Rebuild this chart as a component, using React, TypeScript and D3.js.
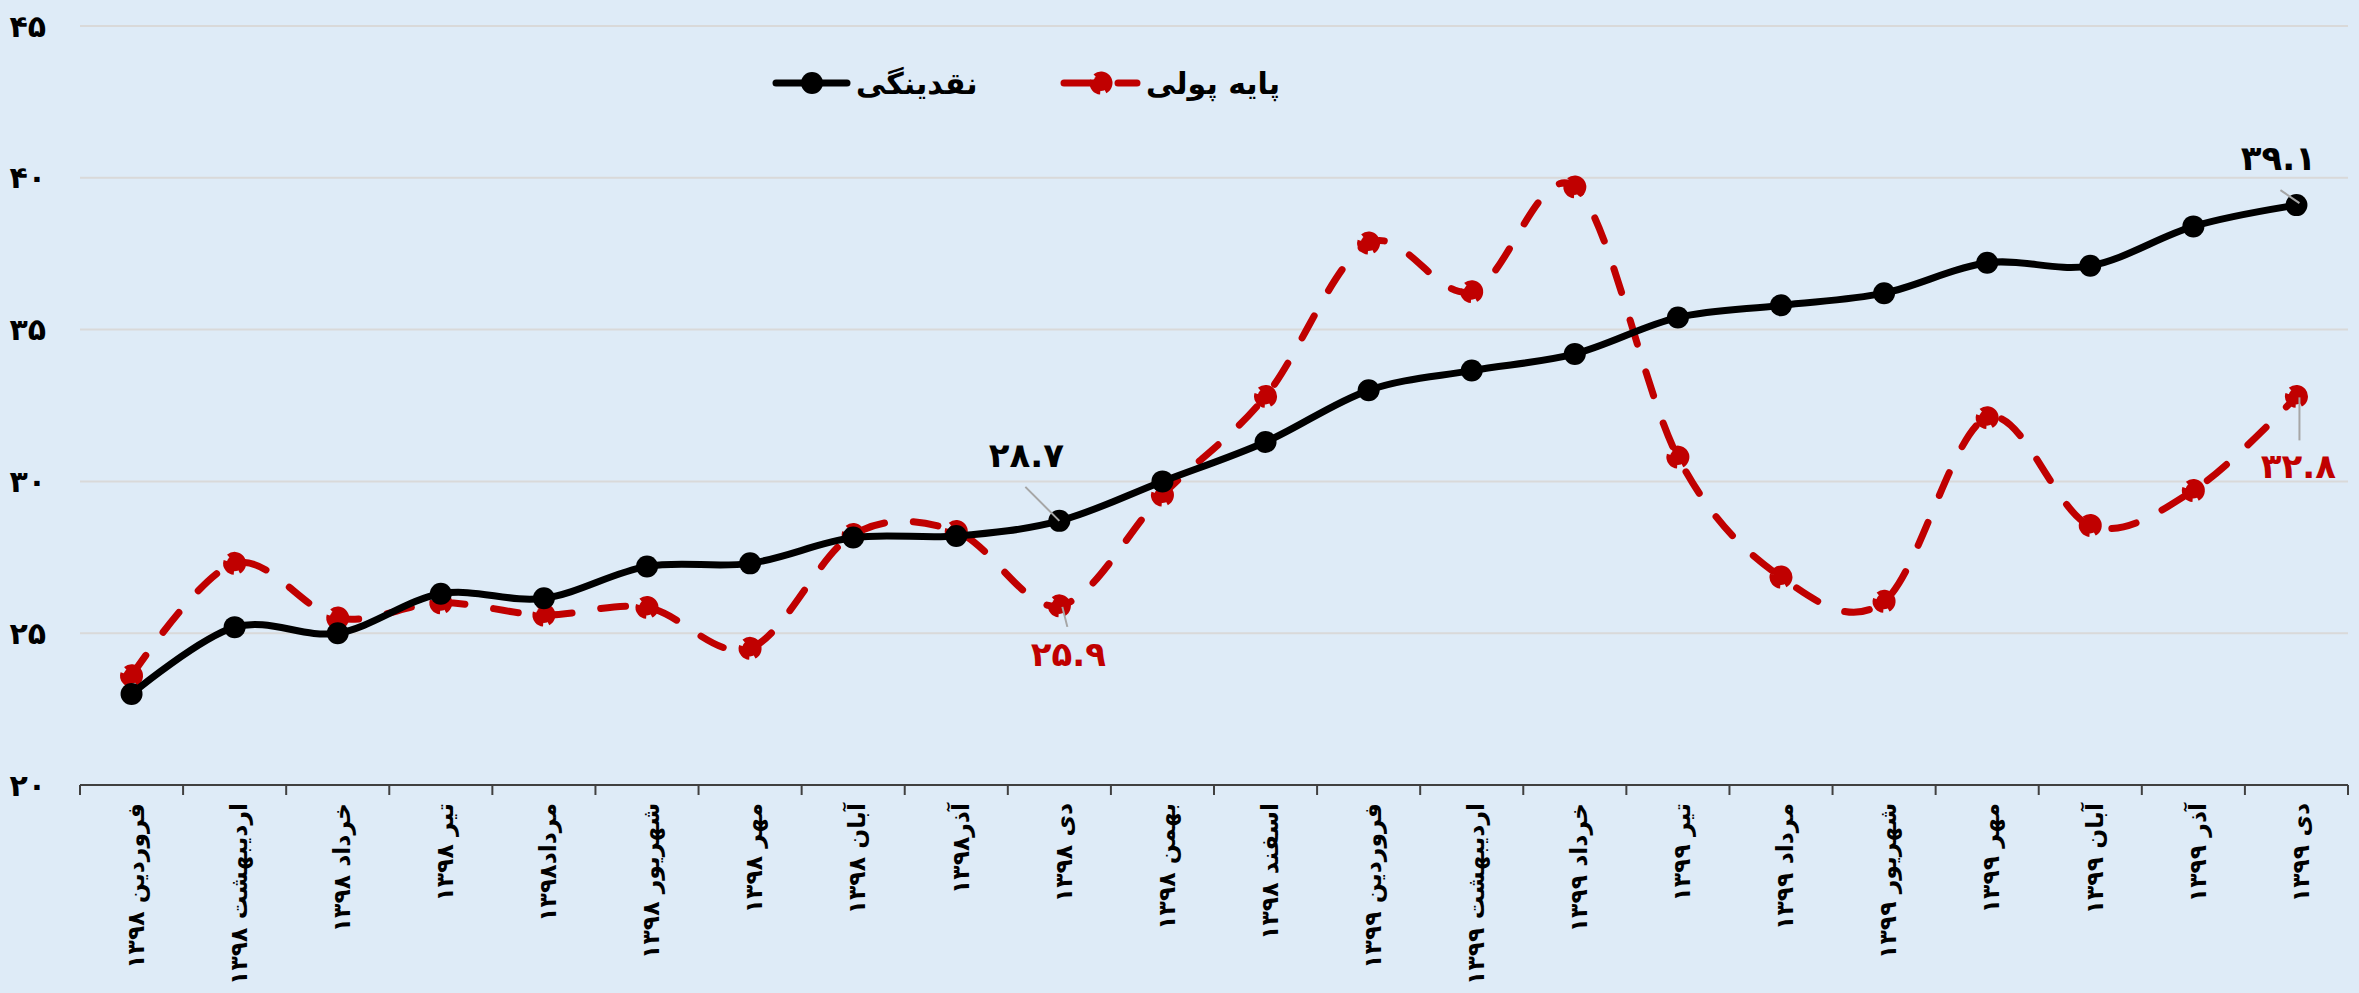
import { useEffect } from "react"
import * as d3 from "d3"

const months = [
  "فروردین ۱۳۹۸",
  "اردیبهشت ۱۳۹۸",
  "خرداد ۱۳۹۸",
  "تیر ۱۳۹۸",
  "مرداد۱۳۹۸",
  "شهریور ۱۳۹۸",
  "مهر ۱۳۹۸",
  "آبان ۱۳۹۸",
  "آذر۱۳۹۸",
  "دی ۱۳۹۸",
  "بهمن ۱۳۹۸",
  "اسفند ۱۳۹۸",
  "فروردین ۱۳۹۹",
  "اردیبهشت ۱۳۹۹",
  "خرداد ۱۳۹۹",
  "تیر ۱۳۹۹",
  "مرداد ۱۳۹۹",
  "شهریور ۱۳۹۹",
  "مهر ۱۳۹۹",
  "آبان ۱۳۹۹",
  "آذر ۱۳۹۹",
  "دی ۱۳۹۹",
]

// نقدینگی
const liquidity = [
  23.0, 25.2, 25.0, 26.3, 26.15, 27.2, 27.3, 28.15, 28.2, 28.7, 30.0, 31.3, 33.0, 33.65, 34.2, 35.4,
  35.8, 36.2, 37.2, 37.1, 38.4, 39.1,
]

// پایه پولی
const monetaryBase = [
  23.6, 27.3, 25.5, 26.0, 25.6, 25.85, 24.5, 28.25, 28.35, 25.9, 29.55, 32.8, 37.85, 36.25, 39.7,
  30.8, 26.85, 26.05, 32.1, 28.55, 29.7, 32.8,
]

const yTicks = [20, 25, 30, 35, 40, 45]
const seriesNames = ["نقدینگی", "پایه پولی"]
const labelledPoints = [9, 21]

const W = 2359
const H = 993
const BG = "#deebf7"
const RED = "#c00000"
const FONT = "'DejaVu Sans', sans-serif"

const faDigits = (s: string) => s.replace(/\d/g, (d) => "۰۱۲۳۴۵۶۷۸۹"[+d])
const fmt = (v: number) => faDigits(v.toFixed(1))

export default function App() {
  useEffect(() => {
    document.body.style.margin = "0"
    document.body.style.background = BG
  }, [])

  const x = d3.scaleBand<string>().domain(months).range([80, 2348])
  const y = d3.scaleLinear().domain([20, 45]).range([785, 26])
  const cx = (i: number) => (x(months[i]) as number) + x.bandwidth() / 2

  const line = d3
    .line<number>()
    .x((_, i) => cx(i))
    .y((d) => y(d))
    .curve(d3.curveCatmullRom.alpha(0))

  const edges = months.map((m) => x(m) as number).concat([x.range()[1]])

  // excel-style marker: filled circle whose border is dashed like the line
  const redMarker = (px: number, py: number, key: string | number) => (
    <g key={key}>
      <circle cx={px} cy={py} r={8} fill={RED} />
      <circle
        cx={px}
        cy={py}
        r={9}
        fill="none"
        stroke={RED}
        strokeWidth={5}
        strokeDasharray="16,5"
        transform={`rotate(-40,${px},${py})`}
      />
    </g>
  )

  // label offsets: [text dx, text dy, leader x1, y1, x2, y2] relative to point
  const blackLabel = [
    [-33, -54, -34, -34, 0, 0],
    [-18, -35, -16, -15, 3, -2],
  ]
  const redLabel = [
    [9, 60, 3, 1, 8, 21],
    [2, 82, 3, 1, 3, 44],
  ]

  return (
    <svg width={W} height={H} style={{ display: "block", background: BG }} fontFamily={FONT}>
      <rect width={W} height={H} fill={BG} />

      {/* gridlines */}
      {yTicks.slice(1).map((t) => (
        <line key={t} x1={80} x2={2348} y1={y(t)} y2={y(t)} stroke="#d9d9d9" strokeWidth={2} />
      ))}

      {/* y tick labels */}
      {yTicks.map((t) => (
        <text
          key={t}
          x={46}
          y={y(t)}
          dy="0.35em"
          textAnchor="end"
          fontSize={30}
          fontWeight="bold"
          fill="#000"
        >
          {faDigits(String(t))}
        </text>
      ))}

      {/* x axis */}
      <line x1={80} x2={2348} y1={785} y2={785} stroke="#404040" strokeWidth={2} />
      {edges.map((e, i) => (
        <line key={i} x1={e} x2={e} y1={785} y2={795} stroke="#404040" strokeWidth={2} />
      ))}
      {months.map((m, i) => (
        <text
          key={m}
          transform={`translate(${cx(i) + 4},803) rotate(-90)`}
          textAnchor="end"
          dy="0.35em"
          fontSize={23.5}
          fontWeight="bold"
          fill="#000"
        >
          {m}
        </text>
      ))}

      {/* monetary base (dashed red) */}
      <path
        d={line(monetaryBase) as string}
        fill="none"
        stroke={RED}
        strokeWidth={7}
        strokeLinecap="round"
        strokeDasharray="25,29"
      />
      {monetaryBase.map((v, i) => redMarker(cx(i), y(v), i))}

      {/* liquidity (solid black) */}
      <path d={line(liquidity) as string} fill="none" stroke="#000" strokeWidth={7} />
      {liquidity.map((v, i) => (
        <circle key={i} cx={cx(i)} cy={y(v)} r={11} fill="#000" />
      ))}

      {/* data labels */}
      {labelledPoints.map((idx, k) => {
        const px = cx(idx)
        const py = y(liquidity[idx])
        const o = blackLabel[k]
        return (
          <g key={"b" + idx}>
            <line x1={px + o[2]} y1={py + o[3]} x2={px + o[4]} y2={py + o[5]} stroke="#a6a6a6" strokeWidth={2} />
            <text x={px + o[0]} y={py + o[1]} textAnchor="middle" fontSize={34} fontWeight="bold" fill="#000">
              {fmt(liquidity[idx])}
            </text>
          </g>
        )
      })}
      {labelledPoints.map((idx, k) => {
        const px = cx(idx)
        const py = y(monetaryBase[idx])
        const o = redLabel[k]
        return (
          <g key={"r" + idx}>
            <line x1={px + o[2]} y1={py + o[3]} x2={px + o[4]} y2={py + o[5]} stroke="#a6a6a6" strokeWidth={2} />
            <text x={px + o[0]} y={py + o[1]} textAnchor="middle" fontSize={34} fontWeight="bold" fill={RED}>
              {fmt(monetaryBase[idx])}
            </text>
          </g>
        )
      })}

      {/* legend */}
      <g>
        <line x1={776} x2={847} y1={83} y2={83} stroke="#000" strokeWidth={7} strokeLinecap="round" />
        <circle cx={812} cy={83} r={11} fill="#000" />
        <text x={856} y={83} dy="0.35em" fontSize={30} fontWeight="bold" fill="#000">
          {seriesNames[0]}
        </text>
        <line
          x1={1064}
          x2={1137}
          y1={83}
          y2={83}
          stroke={RED}
          strokeWidth={7}
          strokeLinecap="round"
          strokeDasharray="36,18"
        />
        {redMarker(1101, 83, "legend")}
        <text x={1146} y={83} dy="0.35em" fontSize={30} fontWeight="bold" fill="#000">
          {seriesNames[1]}
        </text>
      </g>
    </svg>
  )
}
